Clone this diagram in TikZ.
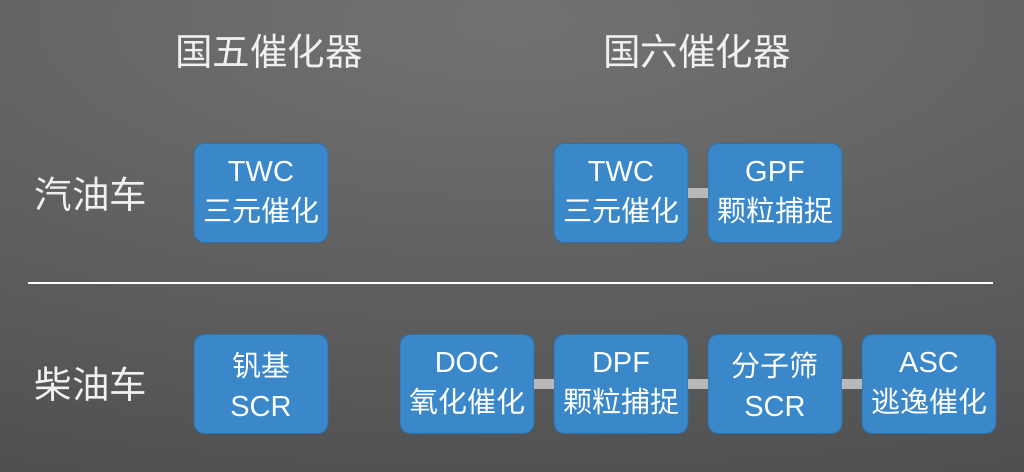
\documentclass[tikz,border=0pt]{standalone}
\usepackage{fontspec}
\setmainfont{Noto Sans CJK SC}
\newfontfamily\lat{Liberation Sans}
\usetikzlibrary{positioning}
\definecolor{bgin}{HTML}{727272}
\definecolor{bgout}{HTML}{38383A}
\definecolor{boxblue}{HTML}{3A88C9}
\definecolor{boxedge}{HTML}{2E6FA6}
\definecolor{barfill}{HTML}{B8B8B8}

\begin{document}
\begin{tikzpicture}[x=1pt,y=-1pt,
  unit/.style={draw=boxedge, line width=0.8pt, fill=boxblue, rounded corners=10pt, minimum width=134pt, minimum height=99pt, inner sep=0pt, text=white, align=center, font=\fontsize{29}{40}\selectfont},
  head/.style={text=white!94!black, font=\fontsize{37.5}{40}\selectfont},
  link/.style={draw=barfill, line width=10pt}
]
\useasboundingbox (0,0) rectangle (1024,471);
\begin{scope}
  \clip (0,0) rectangle (1024,471);
  \shade[inner color=bgin, outer color=bgout] (512,20) ellipse (2200 and 820);
\end{scope}

\node[head] (guowu) at (269,51) {国五催化器};
\node[head] (guoliu) at (697,51) {国六催化器};
\node[head] (qiyou) at (91,194) {汽油车};
\node[head] (chaiyou) at (91,384) {柴油车};

\draw[white, line width=2.2pt] (28,283) -- (993,283);

\node[unit] (twcv) at (261,193) {{\lat TWC}\\三元催化};
\node[unit] (twcvi) at (621,193) {{\lat TWC}\\三元催化};
\node[unit] (gpf) at (775,193) {{\lat GPF}\\颗粒捕捉};

\node[unit] (fanji) at (261,384) {钒基\\{\lat SCR}};
\node[unit] (doc) at (467,384) {{\lat DOC}\\氧化催化};
\node[unit] (dpf) at (621,384) {{\lat DPF}\\颗粒捕捉};
\node[unit] (fenzi) at (775,384) {分子筛\\{\lat SCR}};
\node[unit] (asc) at (929,384) {{\lat ASC}\\逃逸催化};

\draw[link] (twcvi) -- (gpf);
\draw[link] (doc) -- (dpf);
\draw[link] (dpf) -- (fenzi);
\draw[link] (fenzi) -- (asc);
\end{tikzpicture}
\end{document}
